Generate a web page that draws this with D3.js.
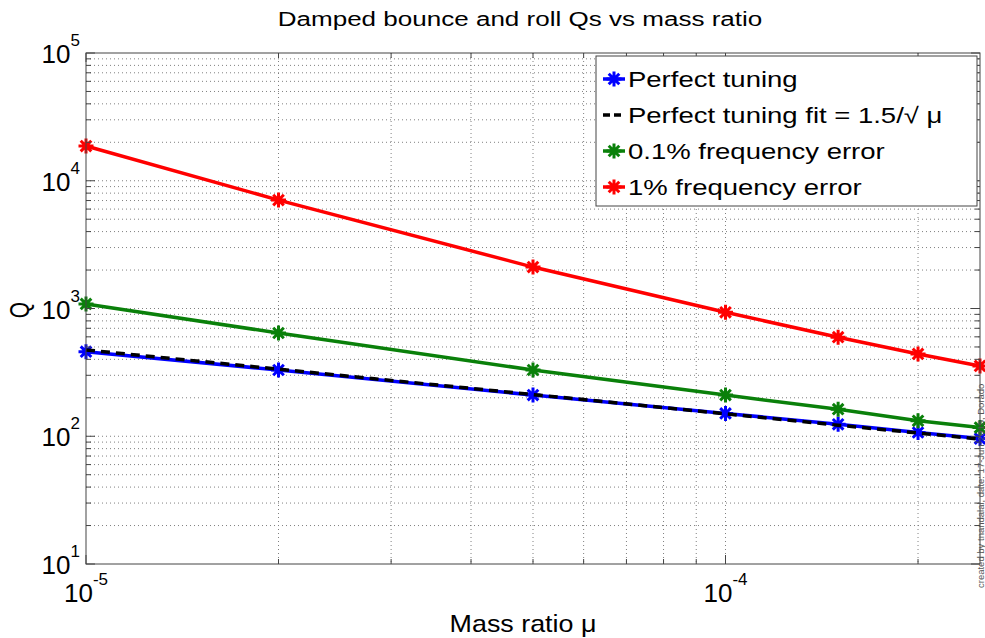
<!DOCTYPE html>
<html>
<head>
<meta charset="utf-8">
<script src="https://cdn.jsdelivr.net/npm/d3@7"></script>
<style>
    body { margin: 0; background: #fff; }
    text { font-family: "Liberation Sans", Arial, sans-serif; fill: #000; }
</style>
</head>
<body>
<svg width="985" height="638"></svg>
<script>
// mass ratio values (x) and Q for each case
var massRatio = [1e-5, 2e-5, 5e-5, 1e-4, 1.5e-4, 2e-4, 2.5e-4];
var perfectTuning = [459, 330, 210, 151, 124, 107, 96];
var perfectFit = [474, 335, 212, 150, 122, 106, 95];
var error01 = [1085, 643, 330, 210, 163, 132, 117];
var error1 = [18700, 7060, 2110, 934, 596, 441, 355];

var yTickExp = [1, 2, 3, 4, 5];
var xTickExp = [-5, -4];

var series = [
    {name: "Perfect tuning", values: perfectTuning, color: "#0000ff", dash: null, marker: true},
    {name: "Perfect tuning fit = 1.5/\u221A \u03BC", values: perfectFit, color: "#000000", dash: "9,6", marker: false},
    {name: "0.1% frequency error", values: error01, color: "#0a800a", dash: null, marker: true},
    {name: "1% frequency error", values: error1, color: "#ff0000", dash: null, marker: true}
];

var svg = d3.select("svg"),
    margin = {top: 53, right: 5, bottom: 74, left: 86},
    width = +svg.attr("width") - margin.left - margin.right,
    height = +svg.attr("height") - margin.top - margin.bottom,
    g = svg.append("g").attr("transform", "translate(" + margin.left + "," + margin.top + ")");

var x = d3.scaleLog()
    .domain([1e-5, 2.5e-4])
    .range([0, width]);

var y = d3.scaleLog()
    .domain([10, 1e5])
    .range([height, 0]);

var xTicks = x.ticks(),
    yTicks = y.ticks();

// dotted grid at every log tick
g.append("g")
    .selectAll("line")
    .data(xTicks.filter(function (d) { return x(d) > 0.5 && x(d) < width - 0.5; }))
    .enter().append("line")
    .attr("x1", function (d) { return x(d); })
    .attr("x2", function (d) { return x(d); })
    .attr("y1", 0)
    .attr("y2", height)
    .attr("stroke", "#808080")
    .attr("stroke-dasharray", "1,3");

g.append("g")
    .selectAll("line")
    .data(yTicks.filter(function (d) { return y(d) > 0.5 && y(d) < height - 0.5; }))
    .enter().append("line")
    .attr("x1", 0)
    .attr("x2", width)
    .attr("y1", function (d) { return y(d); })
    .attr("y2", function (d) { return y(d); })
    .attr("stroke", "#808080")
    .attr("stroke-dasharray", "1,3");

var line = d3.line()
    .x(function (d, i) { return x(massRatio[i]); })
    .y(function (d) { return y(d); });

var star = function (r) {
    var a = r * 0.7071;
    return "M" + (-r) + ",0L" + r + ",0M0," + (-r) + "L0," + r +
        "M" + (-a) + "," + (-a) + "L" + a + "," + a +
        "M" + (-a) + "," + a + "L" + a + "," + (-a);
};

series.forEach(function (s) {
    g.append("path")
        .datum(s.values)
        .attr("fill", "none")
        .attr("stroke", s.color)
        .attr("stroke-width", 3.5)
        .attr("stroke-dasharray", s.dash)
        .attr("d", line);

    if (s.marker) {
        g.append("g")
            .selectAll("path")
            .data(s.values)
            .enter().append("path")
            .attr("transform", function (d, i) {
                return "translate(" + x(massRatio[i]) + "," + y(d) + ")";
            })
            .attr("d", star(7.5))
            .attr("fill", "none")
            .attr("stroke", s.color)
            .attr("stroke-width", 3);
    }
});

// box and inward ticks on all four sides
g.append("rect")
    .attr("width", width)
    .attr("height", height)
    .attr("fill", "none")
    .attr("stroke", "#444");

var isMajor = function (d) {
    var e = Math.log10(d);
    return Math.abs(e - Math.round(e)) < 1e-6;
};

g.append("g")
    .selectAll("line")
    .data(xTicks)
    .enter().each(function (d) {
        var len = isMajor(d) ? 9 : 5, gg = d3.select(this);
        [[height, height - len], [0, len]].forEach(function (p) {
            gg.append("line")
                .attr("x1", x(d)).attr("x2", x(d))
                .attr("y1", p[0]).attr("y2", p[1])
                .attr("stroke", "#444");
        });
    });

g.append("g")
    .selectAll("line")
    .data(yTicks)
    .enter().each(function (d) {
        var len = isMajor(d) ? 9 : 5, gg = d3.select(this);
        [[0, len], [width, width - len]].forEach(function (p) {
            gg.append("line")
                .attr("y1", y(d)).attr("y2", y(d))
                .attr("x1", p[0]).attr("x2", p[1])
                .attr("stroke", "#444");
        });
    });

// tick labels as 10^n
yTickExp.forEach(function (e) {
    var t = g.append("text")
        .attr("x", -6)
        .attr("y", y(Math.pow(10, e)) + 10)
        .attr("text-anchor", "end")
        .style("font-size", "26px")
        .text("10");
    t.append("tspan")
        .attr("dy", -17)
        .style("font-size", "17px")
        .text(e);
});

xTickExp.forEach(function (e) {
    var t = g.append("text")
        .attr("x", x(Math.pow(10, e)))
        .attr("y", height + 38)
        .attr("text-anchor", "middle")
        .style("font-size", "26px")
        .text("10");
    t.append("tspan")
        .attr("dy", -17)
        .style("font-size", "17px")
        .text(e);
});

// the source renders its text wider than it is tall, so stretch horizontally
svg.append("text")
    .attr("transform", "translate(520,26) scale(1.24,1)")
    .attr("text-anchor", "middle")
    .style("font-size", "21px")
    .text("Damped bounce and roll Qs vs mass ratio");

svg.append("text")
    .attr("transform", "translate(523,632) scale(1.12,1)")
    .attr("text-anchor", "middle")
    .style("font-size", "24px")
    .text("Mass ratio \u03BC");

svg.append("text")
    .attr("transform", "translate(29,310) rotate(-90) scale(1,1.3)")
    .attr("text-anchor", "middle")
    .style("font-size", "21px")
    .text("Q");

svg.append("text")
    .attr("transform", "translate(984,588) rotate(-90)")
    .style("font-size", "9.5px")
    .style("fill", "#555")
    .text("created by tnandalal, date: 17-Jun-2015, Dorado");

// legend
var legend = svg.append("g").attr("transform", "translate(596,56)");

legend.append("rect")
    .attr("width", 381)
    .attr("height", 150)
    .attr("fill", "#fff")
    .attr("stroke", "#444");

series.forEach(function (s, i) {
    var row = legend.append("g").attr("transform", "translate(0," + (23 + i * 36) + ")");
    row.append("line")
        .attr("x1", 7).attr("x2", 29)
        .attr("stroke", s.color)
        .attr("stroke-width", 3.5)
        .attr("stroke-dasharray", s.dash ? "7,4" : null);
    if (s.marker) {
        row.append("path")
            .attr("transform", "translate(18,0)")
            .attr("d", star(7.5))
            .attr("fill", "none")
            .attr("stroke", s.color)
            .attr("stroke-width", 3);
    }
    row.append("text")
        .attr("transform", "translate(32,8) scale(1.25,1)")
        .style("font-size", "22px")
        .text(s.name);
});
</script>
</body>
</html>
